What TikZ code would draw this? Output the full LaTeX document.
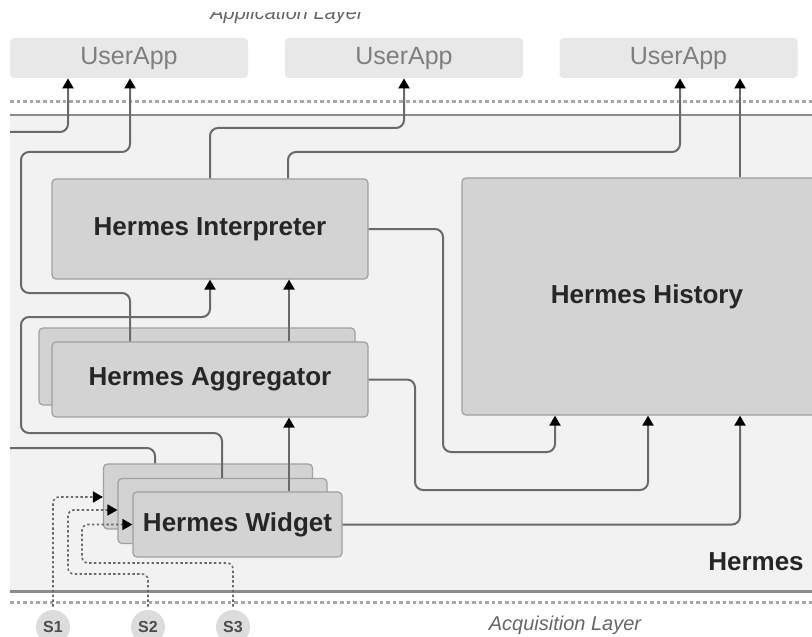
\documentclass[tikz,border=0pt]{standalone}
\usepackage{fontspec}
\setmainfont{Liberation Sans}
\usetikzlibrary{arrows.meta}
\definecolor{hmBack}{HTML}{F2F2F2}
\definecolor{hmBlock}{HTML}{D3D3D3}
\definecolor{hmEdge}{HTML}{A0A0A0}
\definecolor{hmApp}{HTML}{E8E8E8}
\definecolor{hmAppText}{HTML}{7F7F7F}
\definecolor{hmLine}{HTML}{6A6A6A}
\definecolor{hmFrame}{HTML}{8C8C8C}
\definecolor{hmDot}{HTML}{A8A8A8}
\definecolor{hmSensor}{HTML}{DCDCDC}
\tikzset{
  every node/.style={font=\fontsize{13}{15}\selectfont},
  block/.style={draw=hmEdge, fill=hmBlock, rounded corners=2pt, line width=0.6pt, inner sep=0pt,
                text=black!85, font=\fontsize{13}{15}\selectfont\bfseries},
  bigbox/.style={block, minimum width=158pt},
  widgetbox/.style={block, minimum width=104.5pt, minimum height=32.5pt},
  app/.style={fill=hmApp, rounded corners=2pt, inner sep=0pt, minimum width=119pt, minimum height=20pt,
              text=hmAppText, font=\fontsize{12.5}{15}\selectfont},
  sensor/.style={circle, fill=hmSensor, inner sep=0pt, minimum size=17pt, text=black!70,
                 font=\fontsize{8}{9}\selectfont\bfseries},
  layerlbl/.style={text=black!60, font=\fontsize{10}{12}\selectfont\itshape},
  conn/.style={draw=hmLine, line width=1pt, rounded corners=4pt},
  arr/.style={conn, -{Triangle[width=5.5pt, length=5pt, color=black]}},
  sig/.style={draw=hmLine, line width=0.8pt, dash pattern=on 1.2pt off 1.2pt, rounded corners=3pt,
              shorten <=1.5pt, -{Triangle[width=5.5pt, length=5pt, color=black]}},
  layerline/.style={draw=hmDot, line width=1.5pt, dash pattern=on 1.8pt off 1.5pt},
}

\begin{document}
\begin{tikzpicture}[x=0.5pt, y=-0.5pt]
  \useasboundingbox (0,0) rectangle (812,636);
  % --- layers ---
  \fill[hmBack] (10,115) rectangle (812,591);
  \draw[hmFrame, line width=0.9pt] (10,115) -- (812,115);
  \draw[hmFrame, line width=1.5pt] (10,591) -- (812,591);
  \draw[layerline] (10,102) -- (812,102);
  \draw[layerline] (10,602) -- (812,602);
  \begin{scope}
    \clip (0,13) rectangle (812,40);
    \node[layerlbl, anchor=base] (applLbl) at (287,20) {Application Layer};
  \end{scope}
  \node[layerlbl, anchor=base] (acqLbl) at (565,630) {Acquisition Layer};
  \node[font=\fontsize{13}{15}\selectfont\bfseries, text=black!85, anchor=base] (hermesLbl) at (756,570) {Hermes};

  % --- user applications ---
  \node[app] (app1) at (129,58) {UserApp};
  \node[app] (app2) at (404,58) {UserApp};
  \node[app] (app3) at (678.5,58) {UserApp};

  % --- Hermes components (stacked copies first) ---
  \node[bigbox, minimum height=50pt] (interp) at (210,229) {Hermes Interpreter};
  \node[bigbox, minimum height=38.5pt] (aggrB) at (197,366.5) {};
  \node[bigbox, minimum height=37.5pt] (aggr) at (210,379.5) {Hermes Aggregator};
  \node[block, minimum width=185pt, minimum height=118.5pt] (history) at (647,296.5) {Hermes History};
  \node[widgetbox] (widgetB) at (208,496.5) {};
  \node[widgetbox] (widgetM) at (222.5,511) {};
  \node[widgetbox] (widget) at (237.5,524.5) {Hermes Widget};

  % --- sensors ---
  \node[sensor] (s1) at (53,627) {S1};
  \node[sensor] (s2) at (148,627) {S2};
  \node[sensor] (s3) at (233,627) {S3};

  % --- connectors ---
  \coordinate (leftA) at (10,132);
  \coordinate (leftB) at (10,448);
  \draw[arr] (leftA) -| (68,0 |- app1.south);
  \draw[arr] (aggr.north -| 130,0) |- (21,293) |- (130,152) -- (130,0 |- app1.south);
  \draw[arr] (widgetM.north -| 222,0) |- (21,433) |- (210,317) -- (210,0 |- interp.south);
  \draw[conn] (widgetB.north -| 155,0) |- (leftB);
  \draw[arr] (widget.north -| 289,0) -- (289,0 |- aggr.south);
  \draw[arr] (aggr.north -| 289,0) -- (289,0 |- interp.south);
  \draw[arr] (interp.north -| 210,0) |- (404,128) -- (app2.south);
  \draw[arr] (interp.north -| 288,0) |- (680,152) -- (680,0 |- app3.south);
  \draw[arr] (history.north -| 740,0) -- (740,0 |- app3.south);
  \draw[arr] (interp.east) -| (443,452) -| (555,0 |- history.south);
  \draw[arr] (aggr.east) -| (415,490) -| (648,0 |- history.south);
  \draw[arr] (widget.east) -| (740,0 |- history.south);

  % --- sensor signals ---
  \draw[sig] (s1.north) |- (widgetB.west |- 0,497);
  \draw[sig] (s2.north) |- (68,574) |- (widgetM.west |- 0,510);
  \draw[sig] (s3.north) |- (82,563) |- (widget.west);
\end{tikzpicture}
\end{document}
